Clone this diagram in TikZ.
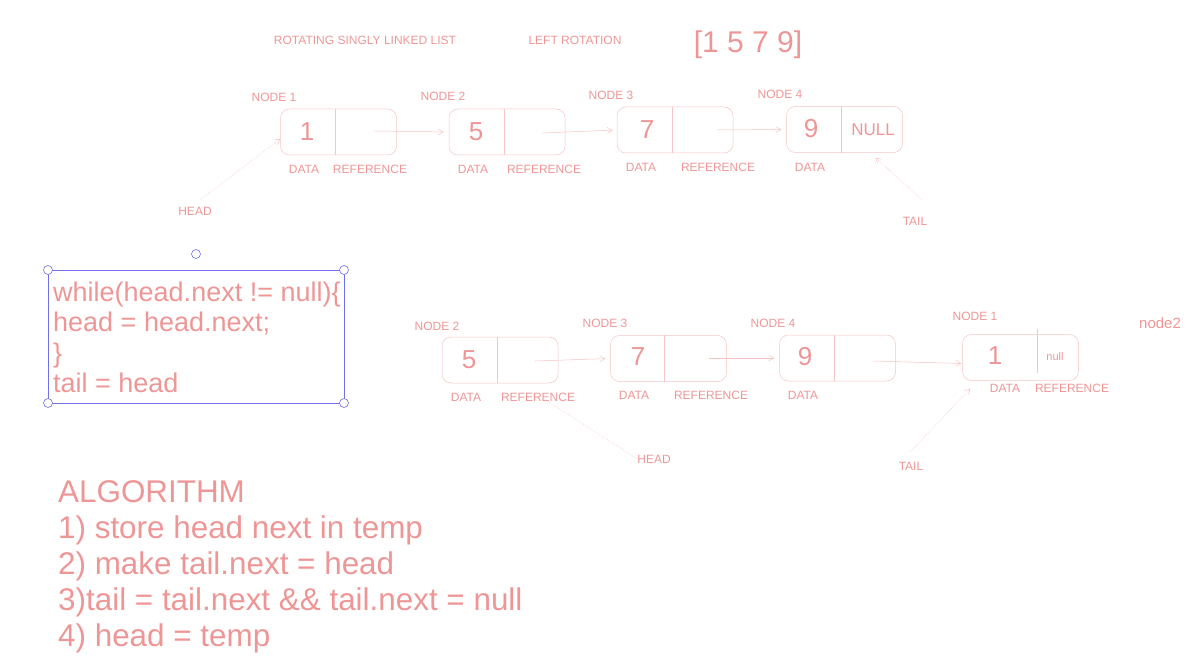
\documentclass[tikz,border=0pt]{standalone}
\usepackage{fontspec}
\setmainfont{Liberation Sans}
\usetikzlibrary{arrows.meta}
\definecolor{txtpink}{RGB}{238,150,150}
\definecolor{linepink}{RGB}{246,196,196}
\definecolor{selblue}{RGB}{112,112,232}

\tikzset{
  cell/.style={draw=linepink, line width=0.5pt, rounded corners=9pt,
    minimum width=116pt, minimum height=46pt, inner sep=0pt},
  lbl/.style={text=txtpink, font=\fontsize{12}{14}\selectfont, inner sep=0pt},
  num/.style={text=txtpink, font=\fontsize{26}{28}\selectfont, inner sep=0pt},
  link/.style={draw=linepink, line width=0.5pt, -{Straight Barb[length=5pt,width=6pt]}},
  ptr/.style={draw=linepink, line width=0.5pt, densely dotted},
  handle/.style={circle, draw=selblue, fill=white, minimum size=9pt,
    inner sep=0pt, line width=0.6pt},
}

\begin{document}
\begin{tikzpicture}[x=1pt, y=-1pt]
\useasboundingbox (0,0) rectangle (1193,668);

% titles
\node[lbl] (title) at (365,40) {ROTATING SINGLY LINKED LIST};
\node[lbl] (mode) at (575,40) {LEFT ROTATION};
\node[text=txtpink, font=\fontsize{30}{32}\selectfont, inner sep=0pt] (arr) at (748,45) {[1 5 7 9]};

% list before rotation
\node[cell] (n1) at (338.5,132) {};
\node[cell] (n2) at (507,132) {};
\node[cell] (n3) at (675,130) {};
\node[cell] (n4) at (844.5,129.5) {};
\foreach \n in {n1,n2,n3,n4}
  \draw[linepink, line width=0.5pt] ([xshift=55pt]\n.north west) -- ([xshift=55pt]\n.south west);

\node[num] (v1) at (307,132) {1};
\node[num] (v2) at (476,132) {5};
\node[num] (v3) at (647,130) {7};
\node[num] (v4) at (811,129) {9};
\node[text=txtpink, font=\fontsize{17}{19}\selectfont, inner sep=0pt] (nul) at (873,130) {NULL};

\node[lbl] (c1) at (274,97) {NODE 1};
\node[lbl] (c2) at (443,96) {NODE 2};
\node[lbl] (c3) at (611,95) {NODE 3};
\node[lbl] (c4) at (780,94) {NODE 4};

\node[lbl] at (304,169) {DATA};
\node[lbl] at (370,169) {REFERENCE};
\node[lbl] at (473,169) {DATA};
\node[lbl] at (544,169) {REFERENCE};
\node[lbl] at (641,167) {DATA};
\node[lbl] at (718,167) {REFERENCE};
\node[lbl] at (810,167) {DATA};

\coordinate (r1) at (374,131);
\coordinate (r2) at (542,133);
\coordinate (r3) at (717,130);
\draw[link, shorten >=5pt] (r1) -- (n2.west);
\draw[link, shorten >=4pt] (r2) -- (n3.west);
\draw[link, shorten >=5pt] (r3) -- (n4.west);

\node[lbl] (head1) at (195,211) {HEAD};
\coordinate (h1) at (200,200);
\draw[link, densely dotted] (h1) -- ([yshift=-7pt]n1.west);
\node[lbl] (tail1) at (915,221) {TAIL};
\coordinate (t1) at (922,200);
\draw[link, densely dotted] (t1) -- ([xshift=31pt,yshift=-5pt]n4.south);

% selected code box
\draw[selblue, line width=0.6pt] (48,270) rectangle (344,403);
\node[handle] (s1) at (48,270) {};
\node[handle] (s2) at (344,270) {};
\node[handle] (s3) at (48,403) {};
\node[handle] (s4) at (344,403) {};
\node[handle] (s5) at (196,254) {};
\node[anchor=north west, align=left, inner sep=0pt, text=txtpink,
  font=\fontsize{27}{30.5}\selectfont] (code) at (53,281.5)
  {while(head.next != null)\{\\head = head.next;\\\}\\tail = head};

% list after rotation
\node[cell] (b2) at (500,360) {};
\node[cell] (b3) at (668.5,358.5) {};
\node[cell] (b4) at (837.5,358) {};
\node[cell] (b1) at (1020.5,357.5) {};
\draw[linepink, line width=0.5pt] ([xshift=55pt]b2.north west) -- ([xshift=55pt]b2.south west);
\draw[linepink, line width=0.5pt] ([xshift=54pt]b3.north west) -- ([xshift=54pt]b3.south west);
\draw[linepink, line width=0.5pt] ([xshift=55pt]b4.north west) -- ([xshift=55pt]b4.south west);
\draw[linepink, line width=0.5pt] (1037,329) -- (1037,373);

\node[num] (w2) at (469,360) {5};
\node[num] (w3) at (638,357) {7};
\node[num] (w4) at (805,357) {9};
\node[num] (w1) at (995,356) {1};
\node[lbl, font=\fontsize{11}{13}\selectfont] (nul2) at (1055,357) {null};

\node[lbl] (d2) at (437,326) {NODE 2};
\node[lbl] (d3) at (605,323) {NODE 3};
\node[lbl] (d4) at (773,323) {NODE 4};
\node[lbl] (d1) at (975,316) {NODE 1};
\node[text=txtpink, font=\fontsize{15}{17}\selectfont, inner sep=0pt] (extra) at (1160,323) {node2};

\node[lbl] at (466,397) {DATA};
\node[lbl] at (538,397) {REFERENCE};
\node[lbl] at (634,395) {DATA};
\node[lbl] at (711,395) {REFERENCE};
\node[lbl] at (803,395) {DATA};
\node[lbl] at (1005,388) {DATA};
\node[lbl] at (1072,388) {REFERENCE};

\coordinate (q2) at (535,361);
\coordinate (q3) at (709,358);
\coordinate (q4) at (873,361);
\draw[link, shorten >=5pt] (q2) -- (b3.west);
\draw[link, shorten >=5pt] (q3) -- (b4.west);
\draw[link, shorten >=1pt] (q4) -- ([yshift=-6pt]b1.west);

\node[lbl] (head2) at (654,459) {HEAD};
\coordinate (h2) at (543,398);
\draw[ptr] (h2) -- (head2.west);
\node[lbl] (tail2) at (911,466) {TAIL};
\coordinate (t2) at (910,452);
\draw[link, densely dotted] (t2) -- ([xshift=8pt,yshift=-8pt]b1.south west);

% algorithm
\node[anchor=north west, align=left, inner sep=0pt, text=txtpink,
  font=\fontsize{31.4}{36}\selectfont] (algo) at (58,480)
  {ALGORITHM\\1) store head next in temp\\2) make tail.next = head\\3)tail = tail.next \&\& tail.next = null\\4) head = temp};

\end{tikzpicture}
\end{document}
